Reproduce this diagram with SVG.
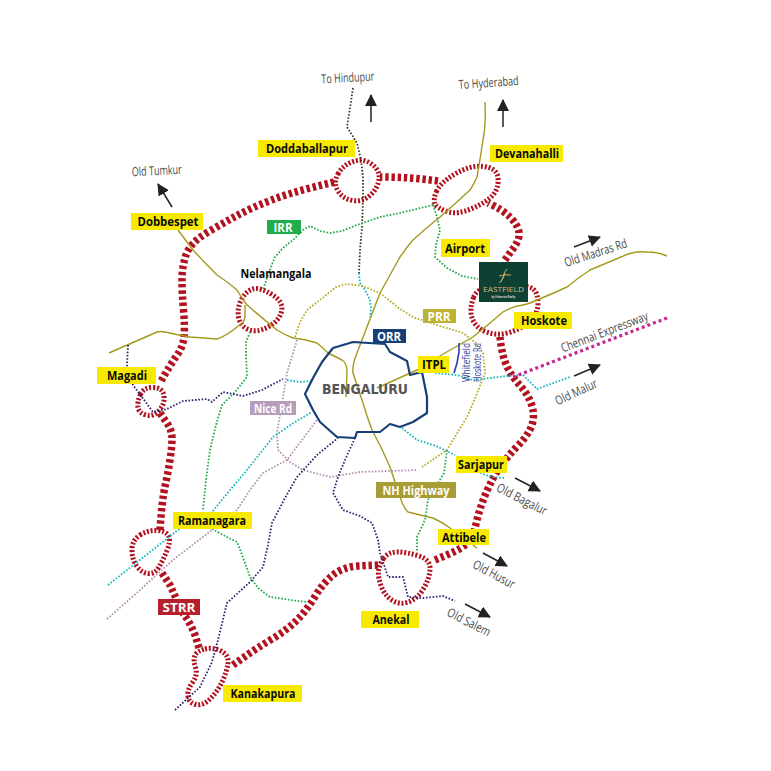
<svg xmlns="http://www.w3.org/2000/svg" width="771" height="771" viewBox="0 0 771 771">
<style>
text{font-family:"Open Sans","Liberation Sans",sans-serif}
.thick{fill:none;stroke:#b2121f;stroke-width:7.5;stroke-dasharray:3.4 2.8}
.ring{fill:none;stroke:#b2121f;stroke-width:5;stroke-dasharray:2 1.8}
.solid{fill:none;stroke-width:1.4;stroke-linejoin:round}
.olive{stroke:#a39a1e}
.dot{fill:none;stroke-width:1.8;stroke-dasharray:1.6 1.7;stroke-linejoin:round}
.green{stroke:#1fa84a}.prr{stroke:#b8a81f}.mauve{stroke:#b48fb4}.cyan{stroke:#12b5bd}.navy{stroke:#2f2170}.black{stroke:#3a3a20}
.arrow{fill:none;stroke:#222;stroke-width:1.5;marker-end:url(#head)}
.road{font-size:12.5px;fill:#4a4a4a}
.lab{font-size:12.5px;font-weight:700;fill:#0a0a0a;text-anchor:middle}
.wlab{font-size:12.5px;font-weight:700;fill:#fff;text-anchor:middle}
.y{fill:#f7ea00}
</style>
<defs>
<marker id="head" markerUnits="userSpaceOnUse" markerWidth="14" markerHeight="14" refX="11" refY="6" orient="auto"><path d="M0 0L12 6L0 12Z" fill="#222"/></marker>
</defs>
<g id="strr">
<path class="thick" d="M334 182L312 187.5Q290 193 271.5 200Q253 207 238 215Q223 223 206.5 233Q190 243 186 255Q182 267 182 280Q182 293 183.5 310Q185 327 184 337Q183 347 176.5 356Q170 365 160 383"/>
<path class="thick" d="M160 413L166 421.5Q172 430 172 438.5Q172 447 170 460Q168 473 165 486.5Q162 500 160 530"/>
<path class="thick" d="M162 573L170 585Q176 598 182 612Q190 622 195 635L199 648"/>
<path class="thick" d="M233 665L245 656.5Q257 648 272 639Q287 630 297 620Q307 610 315 596.5Q323 583 333 575Q343 567 358 566L378 565"/>
<path class="thick" d="M435 560L449 554Q463 548 468 542.5Q473 537 476.5 522Q480 507 486.5 492Q493 477 500 467Q507 457 518.5 445Q530 433 532.5 423Q535 413 531 403Q527 393 520 385.5Q513 378 507.5 367.5Q502 357 500 337"/>
<path class="thick" d="M505 260L512 250Q520 240 519 232.5Q518 225 510.5 217.5Q503 210 488 203"/>
<path class="thick" d="M438 181Q410 177 380 177"/>
<path class="ring" d="M338 174Q343 165 353 161.5Q363 158 371.5 164Q380 170 379 179Q378 188 370.5 195Q363 202 353 200.5Q343 199 338 191Q333 183 338 174Z"/>
<path class="ring" d="M436.5 191.5Q440 183 455 174Q470 165 483.5 166.5Q497 168 498 178Q499 188 493 195Q487 202 472 208.5Q457 215 447 211.5Q437 208 435 204Q433 200 436.5 191.5Z"/>
<path class="ring" d="M473.5 297.5Q469 310 472.5 319Q476 328 486.5 332Q497 336 509 332.5Q521 329 529.5 321.5Q538 314 538 303.5Q538 293 533 289Q528 285 503 285Q478 285 473.5 297.5Z"/>
<path class="ring" d="M241.5 299.5Q246 291 253 289Q260 287 272 294.5Q284 302 281.5 311.5Q279 321 268 327Q257 333 248.5 329.5Q240 326 238.5 317Q237 308 241.5 299.5Z"/>
<path class="ring" d="M140.5 394.5Q144 387 153.5 387.5Q163 388 164 396Q165 404 159 410.5Q153 417 146 415Q139 413 138 407.5Q137 402 140.5 394.5Z"/>
<path class="ring" d="M140 535Q148 530 157 530.5Q166 531 168.5 536Q171 541 167 550.5Q163 560 159 567Q155 574 148.5 573.5Q142 573 137 566.5Q132 560 132 550Q132 540 140 535Z"/>
<path class="ring" d="M205 649Q213 647 221 651Q229 655 228 663Q227 671 222.5 681Q218 691 210.5 698.5Q203 706 196 704.5Q189 703 188 696.5Q187 690 192.5 682.5Q198 675 195.5 667.5Q193 660 195 655.5Q197 651 205 649Z"/>
<path class="ring" d="M383.5 558.5Q388 552 397.5 552Q407 552 419 556Q431 560 430 570Q429 580 423 589.5Q417 599 408.5 602Q400 605 392.5 600.5Q385 596 381.5 587Q378 578 378.5 571.5Q379 565 383.5 558.5Z"/>
</g>
<g id="connectors">
<path class="solid olive" d="M485 102Q486 125 483 140Q480 160 477 177Q474 184 470 190Q455 204 440 217Q426 228 413 240Q406 248 400 257L380 293L357 353Q352 365 353 373Q358 388 363 403Q367 417 372 430Q382 448 390 467Q395 482 400 497Q403 507 408 512Q420 515 433 518Q442 522 450 528L477 548"/>
<path class="solid olive" d="M178 230L193 250Q205 263 217 275Q228 282 237 290Q241 297 247 305Q262 318 277 330Q285 335 293 338Q305 339 317 343Q322 347 328 353L342 360Q347 363 347 372L346 397"/>
<path class="solid olive" d="M109 353L157 332Q160 331 165 332Q178 335 190 337L217 339Q226 336 237 327Q245 322 245 317L245 305"/>
<path class="solid olive" d="M667 256Q658 252 647 252Q637 251 628 254L590 270Q578 278 567 287Q552 294 537 300Q527 305 517 306Q510 308 503 312Q488 325 473 337L438 357L417 370L377 388"/>
<path class="dot black" d="M353 88L350 108L347 127L357 143L361 160L363 177L363 200L362 227L360 250L359 273"/>
<path class="dot cyan" d="M359 273L360 283L365 290L370 300L371 308L370 317"/>
<path class="dot green" d="M433 205L400 213L380 217L357 225L342 231L330 233L320 231L310 226L303 230L293 240L284 247L275 257L269 272L263 290"/>
<path class="dot green" d="M250 332L246 342L246 355L247 377L235 392L222 405L216 425L210 450L206 480L203 510"/>
<path class="dot green" d="M212 529L225 536L237 542L241 552L250 577L258 588L270 597L290 600L307 602"/>
<path class="dot green" d="M433 205L437 217L440 230L436 245L435 257L447 268L462 276L478 279"/>
<path class="dot green" d="M447 450L444 473L428 500L425 520L417 537L417 552"/>
<path class="dot prr" d="M295 337L300 322L307 310L325 296L336 287L347 284L362 286L380 293L400 309L413 317L440 326L463 333L476 343L483 353L485 373L476 396L467 417L447 450L422 467"/>
<path class="dot mauve" d="M297 340L287 373L282 403L277 433L278 450L290 462L303 470L330 477L360 472L390 471L417 470"/>
<path class="dot mauve" d="M107 619L140 590L173 560L212 530L237 510L250 490L263 473L287 460L302 440L317 420"/>
<path class="dot cyan" d="M108 585L178 530L212 512L230 490L247 470L273 437L295 422L312 412"/>
<path class="dot cyan" d="M287 380L300 382L312 381"/>
<path class="dot cyan" d="M435 373L457 375L473 380L507 376L523 375L537 389L570 377"/>
<path class="dot cyan" d="M402 428L417 440L436 446L455 455"/>
<path class="dot cyan" d="M480 473L492 477L505 478"/>
<path class="dot navy" d="M128 345L127 365L133 385L153 412L167 409L183 401L207 399L212 402L223 392L243 396L262 390L283 379"/>
<path class="dot navy" d="M175 710L200 687L212 662L218 640L227 603L250 582L263 567L268 545L272 523L285 498L297 477L317 455L338 438"/>
<path class="dot navy" d="M355 438L345 460L338 477L333 493L343 510L360 516L372 523L378 540L380 553L388 577L403 577L408 597L423 598L443 596L455 601"/>
<path fill="none" stroke="#c8258f" stroke-width="3.2" stroke-dasharray="3 3" d="M667 318L513 377"/>
<path fill="none" stroke="#2c3e9c" stroke-width="1.6" d="M459 343L459 352L457 363L454 373"/>
<path fill="none" stroke="#173f77" stroke-width="2.2" stroke-linejoin="round" d="M305 394L313 378L322 362L333 348L353 342L385 344L390 352L407 361L410 375L422 372L427 397L427 413L413 422L400 427L390 424L380 432L357 432L355 438L337 437L320 422L313 410Z"/>
<path class="arrow" d="M371 122L371 95"/>
<path class="arrow" d="M172 207L158 184"/>
<path class="arrow" d="M503 127L503 100"/>
<path class="arrow" d="M574 247L600 237"/>
<path class="arrow" d="M574 376L600 365"/>
<path class="arrow" d="M515 478L540 491"/>
<path class="arrow" d="M483 553L507 566"/>
<path class="arrow" d="M465 604L490 617"/>
</g>
<g id="road-labels">
<text class="road" transform="translate(348 82) rotate(-3)" text-anchor="middle" textLength="53" lengthAdjust="spacingAndGlyphs">To Hindupur</text>
<text class="road" transform="translate(157 175) rotate(-3)" text-anchor="middle" textLength="50" lengthAdjust="spacingAndGlyphs">Old Tumkur</text>
<text class="road" transform="translate(489 87) rotate(-4)" text-anchor="middle" textLength="60" lengthAdjust="spacingAndGlyphs">To Hyderabad</text>
<text class="road" transform="translate(597 257) rotate(-18)" text-anchor="middle" textLength="65" lengthAdjust="spacingAndGlyphs">Old Madras Rd</text>
<text class="road" transform="translate(606 336) rotate(-21)" text-anchor="middle" textLength="92" lengthAdjust="spacingAndGlyphs">Chennai Expressway</text>
<text class="road" transform="translate(578 396) rotate(-25)" text-anchor="middle" textLength="45" lengthAdjust="spacingAndGlyphs">Old Malur</text>
<text class="road" transform="translate(520 503) rotate(27)" text-anchor="middle" textLength="55" lengthAdjust="spacingAndGlyphs">Old Bagalur</text>
<text class="road" transform="translate(492 578) rotate(28)" text-anchor="middle" textLength="46" lengthAdjust="spacingAndGlyphs">Old Husur</text>
<text class="road" transform="translate(467 626) rotate(27)" text-anchor="middle" textLength="47" lengthAdjust="spacingAndGlyphs">Old Salem</text>
<text transform="translate(470 382) rotate(-90)" font-size="11.5" fill="#2c3e9c" textLength="39" lengthAdjust="spacingAndGlyphs">Whitefield</text>
<text transform="translate(481 382) rotate(-90)" font-size="11.5" fill="#2c3e9c" textLength="39" lengthAdjust="spacingAndGlyphs">Hoskote Rd</text>
</g>
<g id="node-bengaluru"><text x="365" y="394" font-size="13.5" font-weight="700" fill="#555" text-anchor="middle" style="font-family:'DejaVu Sans',sans-serif" textLength="86" lengthAdjust="spacingAndGlyphs">BENGALURU</text></g>
<g id="node-nelamangala"><text class="lab" x="276" y="278" textLength="71" lengthAdjust="spacingAndGlyphs">Nelamangala</text></g>
<g id="node-doddaballapur"><rect class="y" x="258" y="140" width="97" height="17"/><text class="lab" x="307" y="153" textLength="82" lengthAdjust="spacingAndGlyphs">Doddaballapur</text></g>
<g id="node-dobbespet"><rect class="y" x="131" y="213" width="72" height="17"/><text class="lab" x="168" y="226" textLength="61" lengthAdjust="spacingAndGlyphs">Dobbespet</text></g>
<g id="node-devanahalli"><rect class="y" x="490" y="145" width="73" height="17"/><text class="lab" x="527" y="158" textLength="64" lengthAdjust="spacingAndGlyphs">Devanahalli</text></g>
<g id="node-airport"><rect class="y" x="441" y="239" width="49" height="18"/><text class="lab" x="465" y="253" textLength="40" lengthAdjust="spacingAndGlyphs">Airport</text></g>
<g id="node-hoskote"><rect class="y" x="514" y="312" width="58" height="17"/><text class="lab" x="544" y="325" textLength="46" lengthAdjust="spacingAndGlyphs">Hoskote</text></g>
<g id="node-itpl"><rect class="y" x="418" y="356" width="31" height="17"/><text class="lab" x="434" y="369" textLength="24" lengthAdjust="spacingAndGlyphs">ITPL</text></g>
<g id="node-sarjapur"><rect class="y" x="456" y="456" width="51" height="17"/><text class="lab" x="481" y="469" textLength="46" lengthAdjust="spacingAndGlyphs">Sarjapur</text></g>
<g id="node-attibele"><rect class="y" x="438" y="529" width="51" height="16"/><text class="lab" x="464" y="542" textLength="44" lengthAdjust="spacingAndGlyphs">Attibele</text></g>
<g id="node-anekal"><rect class="y" x="361" y="611" width="58" height="17"/><text class="lab" x="391" y="624" textLength="37" lengthAdjust="spacingAndGlyphs">Anekal</text></g>
<g id="node-ramanagara"><rect class="y" x="173" y="512" width="79" height="17"/><text class="lab" x="212" y="525" textLength="68" lengthAdjust="spacingAndGlyphs">Ramanagara</text></g>
<g id="node-magadi"><rect class="y" x="97" y="367" width="59" height="17"/><text class="lab" x="127" y="380" textLength="40" lengthAdjust="spacingAndGlyphs">Magadi</text></g>
<g id="node-kanakapura"><rect class="y" x="223" y="685" width="79" height="17"/><text class="lab" x="263" y="698" textLength="65" lengthAdjust="spacingAndGlyphs">Kanakapura</text></g>
<g id="node-nh-highway"><rect x="376" y="482" width="80" height="16" fill="#a89c35"/><text class="wlab" x="416" y="494.500" textLength="67" lengthAdjust="spacingAndGlyphs">NH Highway</text></g>
<g id="node-strr"><rect x="158" y="599" width="42" height="16" fill="#b5202a"/><text class="wlab" x="179" y="612" textLength="33" lengthAdjust="spacingAndGlyphs">STRR</text></g>
<g id="node-irr"><rect x="267" y="220" width="34" height="14" fill="#1fae4b"/><text class="wlab" x="283" y="232" textLength="19" lengthAdjust="spacingAndGlyphs">IRR</text></g>
<g id="node-prr"><rect x="423" y="309" width="33" height="14" fill="#bdb232"/><text class="wlab" x="439" y="320.500" textLength="23" lengthAdjust="spacingAndGlyphs">PRR</text></g>
<g id="node-orr"><rect x="373" y="329" width="33" height="14" fill="#173f77"/><text class="wlab" x="389" y="340.500" textLength="24" lengthAdjust="spacingAndGlyphs">ORR</text></g>
<g id="node-nice-rd"><rect x="250" y="401" width="46" height="14" fill="#b89cbc"/><text class="wlab" x="273" y="412.500" textLength="38" lengthAdjust="spacingAndGlyphs">Nice Rd</text></g>
<g id="node-eastfield">
<rect x="479" y="262" width="49" height="40" fill="#0f4034"/>
<path d="M507 269Q503 274 504 276Q503 280 499 283M499 276Q505 274 511 275M505 273Q502 279 501 282" fill="none" stroke="#c9ad6a" stroke-width="1"/>
<text x="503.5" y="292" font-size="7.5" fill="#d2bb85" text-anchor="middle" textLength="41" lengthAdjust="spacingAndGlyphs">EASTFIELD</text>
<text x="503.5" y="297.500" font-size="3.500" font-weight="700" fill="#ddd" text-anchor="middle" textLength="24" lengthAdjust="spacingAndGlyphs">by Urbanrise Realty</text>
</g>
</svg>
